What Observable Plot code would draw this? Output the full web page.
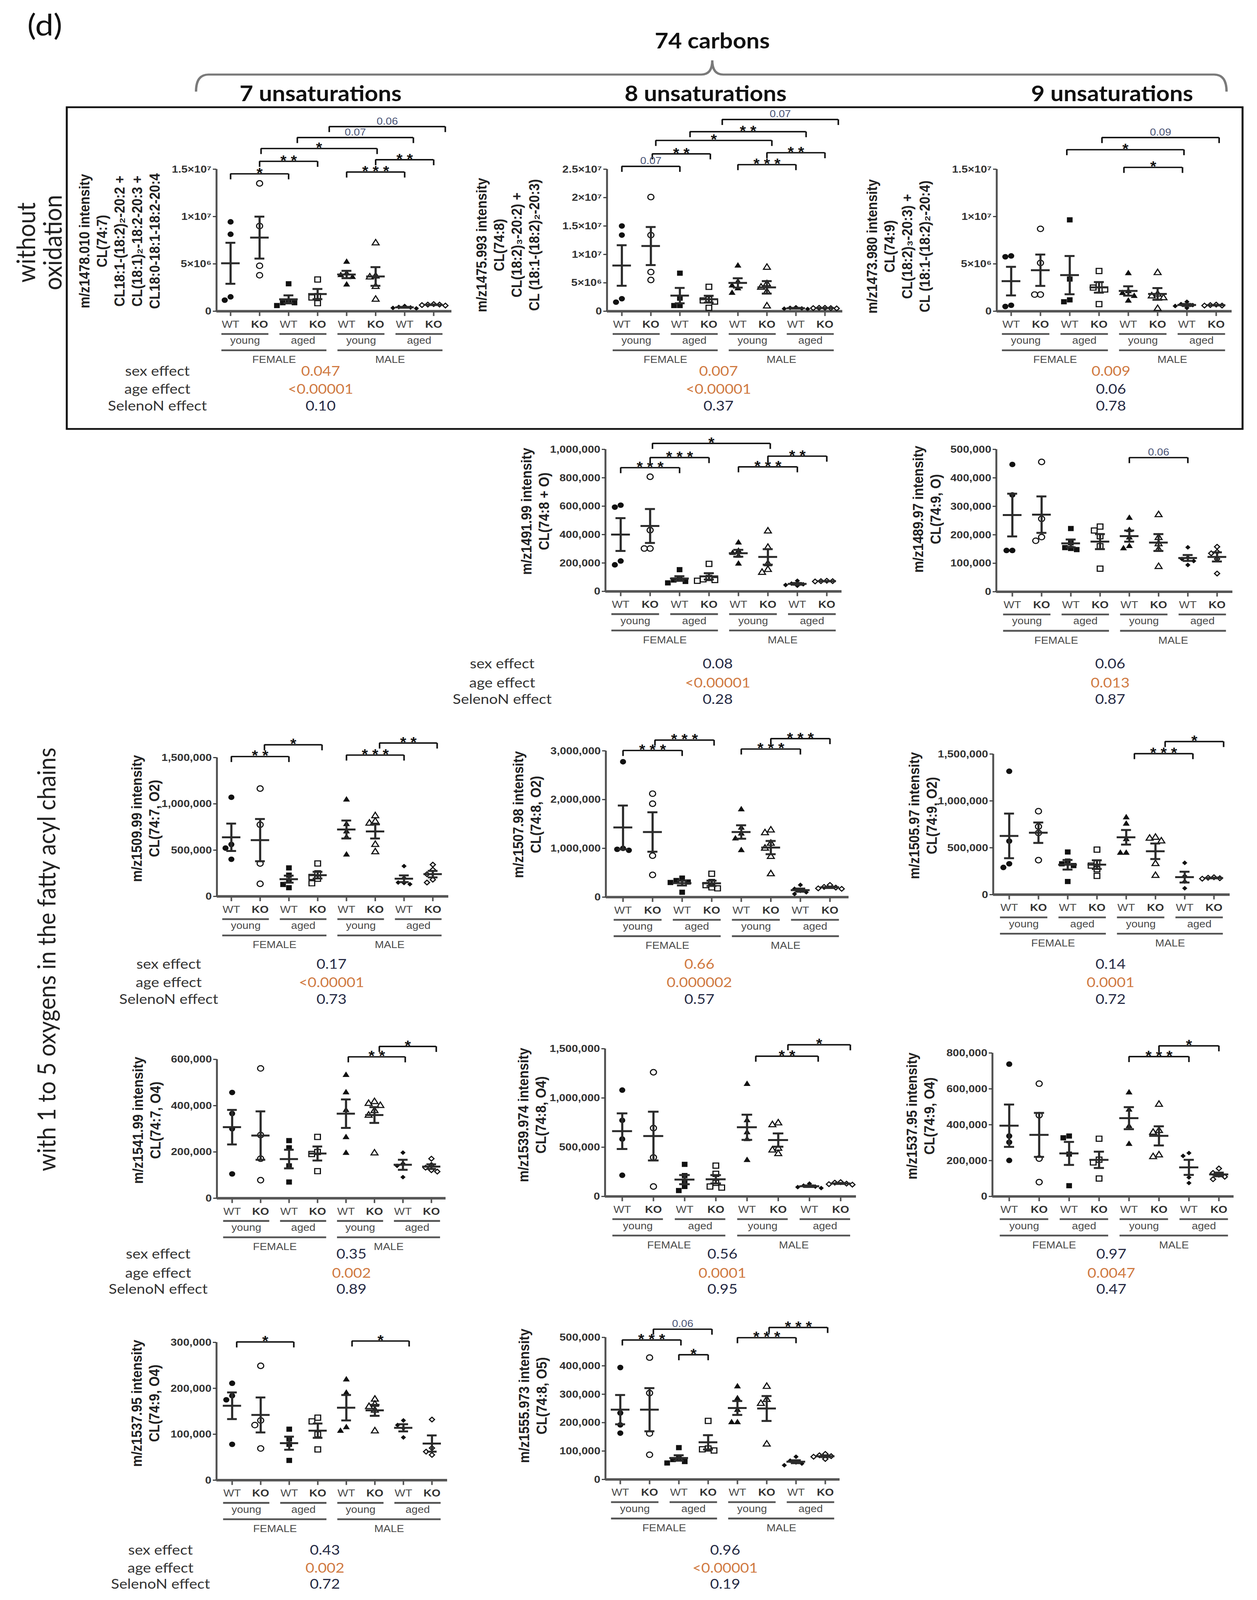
<!DOCTYPE html>
<html><head><meta charset="utf-8">
<script src="https://cdn.jsdelivr.net/npm/d3@7"></script>
<script src="https://cdn.jsdelivr.net/npm/@observablehq/plot@0.6"></script>
<style>
html,body{margin:0;padding:0;background:#fff;overflow:hidden}
#page{position:relative;width:3219px;height:4506px;overflow:hidden;background:#fff;transform-origin:0 0}
</style></head>
<body><div id="page"></div>
<script>
// ---------------- DATA ----------------
const genotypes = ["WT","KO","WT","KO","WT","KO","WT","KO"];
const ages = ["young","aged","young","aged"];
const sexes = ["FEMALE","MALE"];

// groups: WT young F, KO young F, WT aged F, KO aged F, WT young M, KO young M, WT aged M, KO aged M
const cl74_7 = [[9.44e6,8.13e6,1.17e6,1.52e6],[13.5e6,9.0e6,4.8e6,3.8e6],[2.9e6,1.0e6,0.9e6,0.6e6,0.9e6],[3.35e6,1.6e6,1.45e6,0.85e6],[5.2e6,4.0e6,3.8e6,3.6e6,2.8e6],[7.2e6,3.7e6,3.6e6,2.6e6,1.25e6],[0.55e6,0.45e6,0.4e6,0.3e6,0.35e6],[0.75e6,0.7e6,0.65e6,0.6e6,0.7e6]];
const cl74_8 = [[15.0e6,13.4e6,1.6e6,2.2e6],[20.1e6,13.4e6,6.9e6,5.5e6],[6.7e6,2.3e6,1.0e6,1.0e6],[4.3e6,2.1e6,1.9e6,1.7e6,0.6e6],[8.0e6,5.2e6,4.5e6,4.0e6,3.2e6],[7.7e6,4.8e6,4.2e6,3.4e6,0.9e6],[0.7e6,0.6e6,0.5e6,0.45e6,0.4e6],[0.6e6,0.55e6,0.55e6,0.5e6,0.6e6]];
const cl74_9 = [[5.75e6,5.84e6,0.5e6,0.63e6],[8.7e6,5.1e6,1.76e6,1.76e6],[9.65e6,3.4e6,1.0e6,1.2e6],[4.25e6,2.8e6,2.5e6,2.3e6,0.75e6],[4.0e6,2.1e6,1.9e6,1.6e6,1.1e6],[4.06e6,1.8e6,1.6e6,1.4e6,0.27e6],[1.0e6,0.75e6,0.65e6,0.55e6,0.35e6],[0.7e6,0.65e6,0.6e6,0.6e6]];
const cl74_8_O = [[593e3,607e3,187e3,214e3],[807e3,431e3,302e3,302e3],[153e3,90e3,80e3,70e3,60e3],[194e3,95e3,85e3,80e3,75e3],[343e3,285e3,270e3,250e3,194e3],[424e3,309e3,194e3,153e3,133e3],[75e3,55e3,50e3,45e3,40e3],[75e3,72e3,72e3,70e3]];
const cl74_9_O = [[447e3,340e3,145e3,145e3],[456e3,256e3,179e3,192e3],[222e3,172e3,152e3,148e3,155e3],[229e3,215e3,195e3,160e3,81e3],[259e3,216e3,190e3,160e3,152e3],[270e3,190e3,168e3,148e3,88e3],[156e3,120e3,115e3,108e3,94e3],[158e3,140e3,135e3,115e3,64e3]];
const cl74_7_O2 = [[1071e3,561e3,522e3,401e3],[1165e3,775e3,356e3,136e3],[308e3,230e3,170e3,129e3,94e3],[356e3,249e3,210e3,191e3,142e3],[1044e3,780e3,700e3,640e3,450e3],[870e3,810e3,790e3,560e3,480e3],[327e3,200e3,150e3,132e3,145e3],[343e3,288e3,240e3,181e3,150e3]];
const cl74_8_O2 = [[2776e3,1000e3,980e3,960e3],[2121e3,1915e3,850e3,456e3],[390e3,340e3,310e3,300e3,100e3],[480e3,310e3,245e3,200e3,180e3],[1796e3,1420e3,1300e3,1200e3,960e3],[1373e3,1317e3,1100e3,1000e3,830e3,475e3],[250e3,170e3,130e3,100e3,64e3],[250e3,210e3,195e3,180e3,170e3]];
const cl74_9_O2 = [[1316e3,571e3,329e3,290e3],[890e3,726e3,658e3,368e3],[455e3,358e3,329e3,310e3,140e3],[480e3,340e3,310e3,271e3,200e3],[823e3,755e3,590e3,445e3,445e3],[610e3,600e3,571e3,329e3,203e3],[339e3,200e3,140e3,68e3],[185e3,180e3,175e3,170e3]];
const cl74_7_O4 = [[457e3,366e3,300e3,105e3],[561e3,273e3,171e3,78e3],[249e3,218e3,140e3,70e3],[265e3,200e3,191e3,117e3],[532e3,457e3,380e3,263e3,195e3],[417e3,409e3,400e3,378e3,358e3,195e3],[197e3,150e3,140e3,91e3],[171e3,144e3,132e3,121e3,115e3]];
const cl74_8_O4 = [[1080e3,773e3,583e3,215e3],[1261e3,694e3,396e3,101e3],[326e3,212e3,156e3,101e3,60e3],[313e3,230e3,138e3,101e3,90e3],[1141e3,773e3,650e3,580e3,368e3],[745e3,727e3,488e3,470e3,433e3],[130e3,110e3,100e3,95e3,85e3],[145e3,140e3,130e3,125e3,120e3]];
const cl74_9_O4 = [[738e3,337e3,302e3,201e3],[629e3,453e3,211e3,80e3],[337e3,327e3,236e3,60e3],[322e3,205e3,190e3,100e3],[579e3,483e3,392e3,292e3],[513e3,367e3,357e3,231e3,221e3],[242e3,226e3,106e3,75e3],[156e3,131e3,121e3,110e3,96e3]];
const cl74_9_O4b = [[211e3,184e3,175e3,78e3],[249e3,130e3,120e3,69e3],[111e3,90e3,78e3,43e3],[136e3,128e3,100e3,67e3],[219e3,190e3,115e3,107e3],[176e3,165e3,160e3,152e3,107e3],[130e3,120e3,113e3,93e3],[132e3,70e3,62e3,55e3]];
const cl74_8_O5 = [[394e3,234e3,192e3,163e3],[429e3,304e3,162e3,87e3],[112e3,70e3,63e3,58e3,75e3],[206e3,109e3,102e3,106e3],[327e3,285e3,244e3,201e3,201e3],[327e3,281e3,267e3,124e3],[80e3,66e3,60e3,56e3,50e3],[90e3,85e3,82e3,80e3,72e3]];

// y tick values
const ticksA = [0,5e6,1e7,1.5e7];
const ticksB = [0,5e6,1e7,1.5e7,2e7,2.5e7];
const ticksC = [0,5e6,1e7,1.5e7];
const ticksD = [0,200e3,400e3,600e3,800e3,1000e3];
const ticksE = [0,100e3,200e3,300e3,400e3,500e3];
const ticksF = [0,500e3,1000e3,1500e3];
const ticksG = [0,1000e3,2000e3,3000e3];
const ticksH = [0,500e3,1000e3,1500e3];
const ticksI = [0,200e3,400e3,600e3];
const ticksJ = [0,500e3,1000e3,1500e3];
const ticksK = [0,200e3,400e3,600e3,800e3];
const ticksL = [0,100e3,200e3,300e3];
const ticksM = [0,100e3,200e3,300e3,400e3,500e3];

// y axis titles
const titleA = ["m/z1478.010 intensity","CL(74:7)","CL18:1-(18:2)₂-20:2 +","CL(18:1)₂-18:2-20:3 +","CL18:0-18:1-18:2-20:4"];
const titleB = ["m/z1475.993 intensity","CL(74:8)","CL(18:2)₃-20:2) +","CL (18:1-(18:2)₂-20:3)"];
const titleC = ["m/z1473.980 intensity","CL(74:9)","CL(18:2)₃-20:3) +","CL (18:1-(18:2)₂-20:4)"];
const titleD = ["m/z1491.99 intensity","CL(74:8 + O)"];
const titleE = ["m/z1489.97 intensity","CL(74:9, O)"];
const titleF = ["m/z1509.99 intensity","CL(74:7, O2)"];
const titleG = ["m/z1507.98 intensity","CL(74:8, O2)"];
const titleH = ["m/z1505.97 intensity","CL(74:9, O2)"];
const titleI = ["m/z1541.99 intensity","CL(74:7, O4)"];
const titleJ = ["m/z1539.974 intensity","CL(74:8, O4)"];
const titleK = ["m/z1537.95 intensity","CL(74:9, O4)"];
const titleL = ["m/z1537.95 intensity","CL(74:9, O4)"];
const titleM = ["m/z1555.973 intensity","CL(74:8, O5)"];

// significance brackets: from group a to group b, height (data units), label, nudge (groups)
const brA = [{a:0,b:2,h:1.451e7,t:"*",n:0},{a:1,b:3,h:1.583e7,t:"**",n:0},{a:1,b:5,h:1.718e7,t:"*",n:0.05},{a:2,b:6,h:1.834e7,t:"0.07",n:0.3},{a:3,b:7,h:1.95e7,t:"0.06",n:0.4},{a:4,b:6,h:1.47e7,t:"***",n:0},{a:5,b:7,h:1.6e7,t:"**",n:0}];
const brB = [{a:0,b:2,h:2.55e7,t:"0.07",n:0},{a:1,b:3,h:2.77e7,t:"**",n:0.05},{a:1,b:5,h:3.006e7,t:"*",n:0.17},{a:2,b:6,h:3.16e7,t:"**",n:0.35},{a:3,b:7,h:3.375e7,t:"0.07",n:0.46},{a:4,b:6,h:2.58e7,t:"***",n:0},{a:5,b:7,h:2.79e7,t:"**",n:0}];
const brC = [{a:3,b:7,h:1.834e7,t:"0.09",n:0.1},{a:2,b:6,h:1.706e7,t:"*",n:-0.1},{a:4,b:6,h:1.519e7,t:"*",n:-0.15}];
const brD = [{a:0,b:2,h:871e3,t:"***",n:0},{a:1,b:3,h:942e3,t:"***",n:0},{a:1,b:5,h:1042e3,t:"*",n:0.08},{a:4,b:6,h:877e3,t:"***",n:0},{a:5,b:7,h:952e3,t:"**",n:0}];
const brE = [{a:4,b:6,h:471e3,t:"0.06",n:0}];
const brF = [{a:0,b:2,h:1.511e6,t:"**",n:0},{a:1,b:3,h:1.638e6,t:"*",n:0.15},{a:4,b:6,h:1.527e6,t:"***",n:0},{a:5,b:7,h:1.657e6,t:"**",n:0.15}];
const brG = [{a:0,b:2,h:3.007e6,t:"***",n:0},{a:1,b:3,h:3.22e6,t:"***",n:0.08},{a:4,b:6,h:3.037e6,t:"***",n:0},{a:5,b:7,h:3.25e6,t:"***",n:0}];
const brH = [{a:4,b:6,h:1.504e6,t:"***",n:0.28},{a:5,b:7,h:1.633e6,t:"*",n:0.33}];
const brI = [{a:4,b:6,h:611e3,t:"**",n:0.08},{a:5,b:7,h:656e3,t:"*",n:0.17}];
const brJ = [{a:4,b:6,h:1.424e6,t:"**",n:0.28},{a:5,b:7,h:1.54e6,t:"*",n:0.31}];
const brK = [{a:4,b:6,h:780e3,t:"***",n:0},{a:5,b:7,h:840e3,t:"*",n:0}];
const brL = [{a:0,b:2,h:301e3,t:"*",n:0.16},{a:4,b:6,h:303e3,t:"*",n:0.2}];
const brM = [{a:0,b:2,h:491e3,t:"***",n:0.07},{a:1,b:3,h:529e3,t:"0.06",n:0.13},{a:2,b:3,h:439e3,t:"*",n:0},{a:4,b:6,h:499e3,t:"***",n:0},{a:5,b:7,h:535e3,t:"***",n:0.08}];

// three-way ANOVA p values (panels A..M) and whether highlighted
const sexEffect  = ["0.047","0.007","0.009","0.08","0.06","0.17","0.66","0.14","0.35","0.56","0.97","0.43","0.96"];
const sexHi      = [1,1,1,0,0,0,1,0,0,0,0,0,0];
const ageEffect  = ["<0.00001","<0.00001","0.06","<0.00001","0.013","<0.00001","0.000002","0.0001","0.002","0.0001","0.0047","0.002","<0.00001"];
const ageHi      = [1,1,0,1,1,1,1,1,1,1,1,1,1];
const selenoEffect = ["0.10","0.37","0.78","0.28","0.87","0.73","0.57","0.72","0.89","0.95","0.47","0.72","0.19"];

// ---------------- STYLE / LAYOUT ----------------
const INK="#111", MEAN="#2b2b2b", AX="#555", LAB="#4a4a4a", PV="#4b5577", ORANGE="#d07a42", VAL="#262b45";
const SYMBOLS=["circle","circle","square","square","triangle","triangle","diamond2","diamond2"];
const RADII=[7.8,7.8,8.2,8.2,6.6,6.6,6,6];
function sup(n){const m="⁰¹²³⁴⁵⁶⁷⁸⁹";return String(n).split("").map(c=>m[+c]).join("");}
function sci(v){if(v===0)return "0";const e=Math.floor(Math.log10(v)+1e-9);const mant=+(v/10**e).toFixed(2);return `${mant}×10${sup(e)}`;}
const comma=d3.format(",");

const panels = [
 {id:"A",values:cl74_7,yMax:1.5e7,ticks:ticksA,fmt:sci,br:brA,title:titleA,axisX:554,yTop:476,y0:876,cat0:590,sp:74.3,xEnd:1156,tcx:307,tcy:679},
 {id:"B",values:cl74_8,yMax:2.5e7,ticks:ticksB,fmt:sci,br:brB,title:titleB,axisX:1554,yTop:476,y0:876,cat0:1592,sp:74.3,xEnd:2157,tcx:1301,tcy:690},
 {id:"C",values:cl74_9,yMax:1.5e7,ticks:ticksC,fmt:sci,br:brC,title:titleC,axisX:2552,yTop:476,y0:876,cat0:2589,sp:75,xEnd:3154,tcx:2301,tcy:694},
 {id:"D",values:cl74_8_O,yMax:1e6,ticks:ticksD,fmt:comma,br:brD,title:titleD,axisX:1550,yTop:1265,y0:1665,cat0:1589,sp:75.4,xEnd:2155,tcx:1371,tcy:1440},
 {id:"E",values:cl74_9_O,yMax:5e5,ticks:ticksE,fmt:comma,br:brE,title:titleE,axisX:2551,yTop:1265,y0:1666,cat0:2592,sp:74.9,xEnd:3156,tcx:2374,tcy:1434},
 {id:"F",values:cl74_7_O2,yMax:1.5e6,ticks:ticksF,fmt:comma,br:brF,title:titleF,axisX:555,yTop:2133,y0:2524,cat0:592,sp:73.7,xEnd:1148,tcx:373,tcy:2305},
 {id:"G",values:cl74_8_O2,yMax:3e6,ticks:ticksG,fmt:comma,br:brG,title:titleG,axisX:1551,yTop:2114,y0:2526,cat0:1595,sp:75.7,xEnd:2173,tcx:1350,tcy:2294},
 {id:"H",values:cl74_9_O2,yMax:1.5e6,ticks:ticksH,fmt:comma,br:brH,title:titleH,axisX:2543,yTop:2123,y0:2519,cat0:2584,sp:74.9,xEnd:3149,tcx:2364,tcy:2297},
 {id:"I",values:cl74_7_O4,yMax:6e5,ticks:ticksI,fmt:comma,br:brI,title:titleI,axisX:555,yTop:2983,y0:3374,cat0:594,sp:72.9,xEnd:1141,tcx:376,tcy:3155},
 {id:"J",values:cl74_8_O4,yMax:1.5e6,ticks:ticksJ,fmt:comma,br:brJ,title:titleJ,axisX:1549,yTop:2953,y0:3369,cat0:1593,sp:79.9,xEnd:2192,tcx:1363,tcy:3140},
 {id:"K",values:cl74_9_O4,yMax:8e5,ticks:ticksK,fmt:comma,br:brK,title:titleK,axisX:2541,yTop:2965,y0:3369,cat0:2584,sp:76.7,xEnd:3159,tcx:2358,tcy:3143},
 {id:"L",values:cl74_9_O4b,yMax:3e5,ticks:ticksL,fmt:comma,br:brL,title:titleL,axisX:554,yTop:3780,y0:4168,cat0:594,sp:73.1,xEnd:1145,tcx:373,tcy:3952},
 {id:"M",values:cl74_8_O5,yMax:5e5,ticks:ticksM,fmt:comma,br:brM,title:titleM,axisX:1550,yTop:3766,y0:4166,cat0:1588,sp:75,xEnd:2150,tcx:1365,tcy:3931}
];

function swarm(vals, pxY, sp){
  const placed=[], out=[];
  vals.map(v=>v).sort((a,b)=>b-a).forEach(v=>{
    const py=v*pxY; let ox=0;
    for(const c of [0,-1,1,-2,2,-3,3]){const cx=c*15; if(placed.every(q=>Math.hypot(q.ox-cx,q.py-py)>=14)){ox=cx;break;}}
    placed.push({ox,py}); out.push({v,dx:ox/sp});
  });
  return out;
}

const page=document.getElementById("page");

function buildPanel(P){
  const mL=150,mR=40,mT=210,mB=165;
  const innerW=P.xEnd-P.axisX, innerH=P.y0-P.yTop;
  const lo=-(P.cat0-P.axisX)/P.sp, hi=(P.xEnd-P.cat0)/P.sp;
  const width=mL+innerW+mR, height=mT+innerH+mB;
  const pxY=innerH/P.yMax;
  const marks=[];
  marks.push(Plot.ruleY([0],{x1:lo,x2:hi,stroke:AX,strokeWidth:7}));
  marks.push(Plot.ruleX([lo],{y1:0,y2:P.yMax,stroke:AX,strokeWidth:5}));
  marks.push(Plot.axisY(P.ticks,{tickFormat:P.fmt,tickSize:9,tickPadding:4,fontSize:29,fontWeight:"bold",color:"#333",strokeWidth:3,label:null,fontFamily:"Liberation Sans"}));
  marks.push(Plot.axisX(d3.range(8),{tickSize:14,tickFormat:()=>"",color:AX,strokeWidth:4,label:null}));
  P.values.forEach((vals,g)=>{
    const pts=swarm(vals,pxY,P.sp).map(d=>({x:g+d.dx,y:d.v}));
    const filled=g%2===0;
    marks.push(Plot.dot(pts,{x:"x",y:"y",symbol:SYMBOLS[g],r:RADII[g],fill:filled?INK:"none",stroke:filled?"none":INK,strokeWidth:filled?0:3}));
  });
  const st=P.values.map((vals,g)=>{const m=d3.mean(vals),s=d3.deviation(vals)/Math.sqrt(vals.length);return {g,m,lo:m-s,hi:m+s};});
  marks.push(Plot.ruleX(st,{x:"g",y1:"lo",y2:"hi",stroke:MEAN,strokeWidth:5.5}));
  marks.push(Plot.ruleY(st,{y:"m",x1:d=>d.g-0.32,x2:d=>d.g+0.32,stroke:MEAN,strokeWidth:5.5}));
  marks.push(Plot.ruleY(st,{y:"hi",x1:d=>d.g-0.17,x2:d=>d.g+0.17,stroke:MEAN,strokeWidth:5.5}));
  marks.push(Plot.ruleY(st,{y:"lo",x1:d=>d.g-0.17,x2:d=>d.g+0.17,stroke:MEAN,strokeWidth:5.5}));
  marks.push(Plot.text([0,2,4,6],{x:d=>d,y:0,dy:37,text:d=>genotypes[d],fontSize:29,fill:LAB,fontFamily:"Liberation Sans",lineAnchor:"middle"}));
  marks.push(Plot.text([1,3,5,7],{x:d=>d,y:0,dy:37,text:d=>genotypes[d],fontSize:29,fontWeight:"bold",fill:"#333",fontFamily:"Liberation Sans",lineAnchor:"middle"}));
  marks.push(Plot.ruleY([0,2,4,6],{y:0,x1:d=>d-0.31,x2:d=>d+1.31,dy:64,stroke:AX,strokeWidth:5}));
  marks.push(Plot.text([0,2,4,6],{x:d=>d+0.5,y:0,dy:83,text:(d,i)=>ages[i],fontSize:28,fill:LAB,fontFamily:"Liberation Sans",lineAnchor:"middle"}));
  marks.push(Plot.ruleY([0,4],{y:0,x1:d=>d-0.31,x2:d=>d+3.31,dy:110,stroke:AX,strokeWidth:5}));
  marks.push(Plot.text([0,4],{x:d=>d+1.5,y:0,dy:137,text:(d,i)=>sexes[i],fontSize:28,fill:LAB,fontFamily:"Liberation Sans",lineAnchor:"middle"}));
  const drop=16/pxY;
  const ends=P.br.flatMap(d=>[{x:d.a+d.n,h:d.h},{x:d.b+d.n,h:d.h}]);
  marks.push(Plot.ruleY(P.br,{y:"h",x1:d=>d.a+d.n,x2:d=>d.b+d.n,stroke:INK,strokeWidth:4}));
  marks.push(Plot.ruleX(ends,{x:"x",y1:"h",y2:d=>d.h-drop,stroke:INK,strokeWidth:4}));
  const stars=P.br.filter(d=>d.t.startsWith("*")), nums=P.br.filter(d=>!d.t.startsWith("*"));
  marks.push(Plot.text(stars,{x:d=>(d.a+d.b)/2+d.n,y:"h",text:d=>d.t.split("").join(" "),fontSize:40,fontWeight:"bold",fill:INK,fontFamily:"Liberation Sans",lineAnchor:"middle",dy:-1}));
  marks.push(Plot.text(nums,{x:d=>(d.a+d.b)/2+d.n,y:"h",text:"t",fontSize:28,fill:PV,fontFamily:"Liberation Sans",lineAnchor:"middle",dy:-15}));
  const svg=Plot.plot({width,height,marginLeft:mL,marginRight:mR,marginTop:mT,marginBottom:mB,
    x:{domain:[lo,hi]},y:{domain:[0,P.yMax]},
    style:{background:"transparent",fontFamily:"Liberation Sans",overflow:"visible"},marks});
  svg.style.position="absolute";
  svg.style.left=(P.axisX-mL)+"px";
  svg.style.top=(P.yTop-mT)+"px";
  svg.style.maxWidth="none";
  page.appendChild(svg);
}
panels.forEach(buildPanel);

// ---------------- OVERLAY TEXT ----------------
const ov=d3.select(page).append("svg").attr("width",3219).attr("height",4506)
  .style("position","absolute").style("left","0px").style("top","0px");

ov.append("text").attr("x",70).attr("y",100).attr("font-family","Lato").attr("font-size",84).attr("fill","#111").text("(d)");
ov.append("text").attr("x",1824).attr("y",136).attr("text-anchor","middle").attr("font-family","Lato").attr("font-weight",700).attr("font-size",60).attr("fill","#111").text("74 carbons");
[["7 unsaturations",821],["8 unsaturations",1807],["9 unsaturations",2848]].forEach(([t,x])=>{
  ov.append("text").attr("x",x).attr("y",285).attr("text-anchor","middle").attr("font-family","Lato").attr("font-weight",700).attr("font-size",60).attr("fill","#111").text(t);
});
ov.append("path").attr("d","M502,258 Q502,210 534,210 L1796,210 Q1824,210 1824,170 Q1824,210 1852,210 L3109,210 Q3141,210 3141,258")
  .attr("fill","none").attr("stroke","#7a7a7a").attr("stroke-width",6);
ov.append("rect").attr("x",171).attr("y",302).attr("width",3011).attr("height",906).attr("fill","none").attr("stroke","#111").attr("stroke-width",5);

function vtext(x,y,t,size,opts={}){
  const el=ov.append("text").attr("transform",`translate(${x},${y}) rotate(-90)`).attr("text-anchor","middle")
    .attr("font-family",opts.family||"Lato").attr("font-size",size).attr("fill",opts.fill||"#222").text(t);
  if(opts.weight) el.attr("font-weight",opts.weight);
  return el;
}
vtext(90,683,"without",66);
vtext(158,683,"oxidation",66);
vtext(142,2702,"with 1 to 5 oxygens in the fatty acyl chains",64);

panels.forEach(P=>{
  const n=P.title.length, gap=45;
  P.title.forEach((t,i)=>{
    const cx=P.tcx+(i-(n-1)/2)*gap;
    vtext(cx+12,P.tcy,t,37,{family:"Liberation Sans",weight:"bold",fill:"#222"});
  });
});

const statRows=[
  {lx:403,ys:[1046,1097,1144],cols:[[0,821],[1,1840],[2,2845]]},
  {lx:1286,ys:[1870,1924,1970],cols:[[3,1838],[4,2843]]},
  {lx:432,ys:[2716,2768,2815],cols:[[5,849],[6,1791],[7,2844]]},
  {lx:405,ys:[3533,3586,3632],cols:[[8,900],[9,1850],[10,2846]]},
  {lx:411,ys:[4366,4417,4462],cols:[[11,832],[12,1857]]}
];
const labels=["sex effect","age effect","SelenoN effect"];
function htext(x,y,t,fill){ov.append("text").attr("x",x).attr("y",y+12).attr("text-anchor","middle").attr("font-family","Lato").attr("font-size",39).attr("fill",fill).text(t);}
statRows.forEach(r=>{
  labels.forEach((l,i)=>htext(r.lx,r.ys[i],l,"#333"));
  r.cols.forEach(([k,x])=>{
    htext(x,r.ys[0],sexEffect[k],sexHi[k]?ORANGE:VAL);
    htext(x,r.ys[1],ageEffect[k],ageHi[k]?ORANGE:VAL);
    htext(x,r.ys[2],selenoEffect[k],VAL);
  });
});

// fit the 3219×4506 figure into the visible viewport
function fit(){
  const sx=Math.min(1,window.innerWidth/3219), sy=Math.min(1,window.innerHeight/4506);
  page.style.transform=`scale(${sx},${sy})`;
}
fit();
window.addEventListener("resize",fit);
</script>
</body></html>
